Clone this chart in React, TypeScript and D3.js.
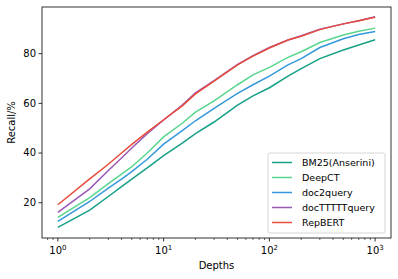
import * as d3 from 'd3';

const depths = [1, 2, 3, 4, 5, 7, 10, 15, 20, 30, 50, 70, 100, 150, 200, 300, 500, 700, 1000];

const bm25 = [10.1, 17, 22.5, 26.5, 29.5, 34, 39, 44, 47.8, 52.5, 59.3, 63, 66.3, 71, 74, 78, 81.5, 83.5, 85.6];
const deepct = [14.1, 22.1, 27.7, 31.5, 34.5, 40, 46.5, 52, 56.5, 61, 67.5, 71.5, 74.5, 78.5, 80.8, 84.5, 87.5, 89, 90.3];
const doc2query = [12.5, 20.5, 25.9, 29.5, 32.5, 37.5, 43.6, 49, 53, 58, 64, 67.5, 71, 75.5, 78, 82.5, 86, 87.7, 88.9];
const docttttt = [16.1, 25.6, 33, 38, 42, 47.8, 53.3, 59.3, 64.2, 69.2, 75.7, 79.2, 82.5, 85.5, 87.2, 89.9, 92, 93.3, 94.9];
const repbert = [19.2, 29.6, 35.5, 40, 43.5, 48.4, 53.4, 59, 63.8, 69, 75.5, 79, 82.3, 85.5, 87, 89.7, 92, 93.3, 94.7];

const seriesNames = ['BM25(Anserini)', 'DeepCT', 'doc2query', 'docTTTTTquery', 'RepBERT'];
const seriesValues = [bm25, deepct, doc2query, docttttt, repbert];
const colors = ['#16a085', '#58d68d', '#3498db', '#9b59b6', '#e74c3c'];

const yTicks = [20, 40, 60, 80];
const xTicks = [1, 10, 100, 1000];

const W = 398;
const H = 279;
const left = 42, right = 391, top = 7, bottom = 238;
const font = 'DejaVu Sans, sans-serif';

export default function App() {
  const x = d3.scaleLog().domain([Math.pow(10, -0.15), Math.pow(10, 3.15)]).range([left, right]);
  const y = d3.scaleLinear().domain([5.8, 98.8]).range([bottom, top]);

  const line = d3
    .line<number>()
    .x((_, i) => x(depths[i]))
    .y((v) => y(v));

  // minor ticks on the log axis
  const minor: number[] = [];
  for (let e = -1; e <= 3; e++) {
    for (let m = 2; m <= 9; m++) {
      const v = m * Math.pow(10, e);
      const [a, b] = x.domain();
      if (v > a && v < b) minor.push(v);
    }
  }

  const legX = 268, legY = 153, legW = 117, legH = 80;

  return (
    <svg width={W} height={H} style={{ position: 'absolute', left: 0, top: 0 }} fontFamily={font}>
      <rect width={W} height={H} fill="#fff" />

      {seriesValues.map((vals, i) => (
        <path key={seriesNames[i]} d={line(vals) || ''} fill="none" stroke={colors[i]} strokeWidth={1.5} />
      ))}

      {/* frame */}
      <rect x={left} y={top} width={right - left} height={bottom - top} fill="none" stroke="#000" strokeWidth={0.8} />

      {/* y axis */}
      {yTicks.map((t) => (
        <g key={t} transform={`translate(0,${y(t)})`}>
          <line x1={left - 3.5} x2={left} stroke="#000" strokeWidth={0.8} />
          <text x={left - 6} dy="0.32em" textAnchor="end" fontSize={10} fill="#000">
            {t}
          </text>
        </g>
      ))}

      {/* x axis */}
      {xTicks.map((t, i) => (
        <g key={t} transform={`translate(${x(t)},0)`}>
          <line y1={bottom} y2={bottom + 3.5} stroke="#000" strokeWidth={0.8} />
          <text y={bottom + 16} textAnchor="middle" fontSize={10} fill="#000">
            10
            <tspan fontSize={7} dy={-4}>
              {i}
            </tspan>
          </text>
        </g>
      ))}
      {minor.map((t) => (
        <line key={t} x1={x(t)} x2={x(t)} y1={bottom} y2={bottom + 2} stroke="#000" strokeWidth={0.6} />
      ))}

      <text x={(left + right) / 2} y={269} textAnchor="middle" fontSize={10} fill="#000">
        Depths
      </text>
      <text transform={`translate(15,${(top + bottom) / 2}) rotate(-90)`} textAnchor="middle" fontSize={10} fill="#000">
        Recall/%
      </text>

      {/* legend */}
      <rect x={legX} y={legY} width={legW} height={legH} rx={2} fill="#fff" fillOpacity={0.8} stroke="#ccc" strokeWidth={0.8} />
      {seriesNames.map((name, i) => {
        const ly = legY + 9.5 + i * 15;
        return (
          <g key={name}>
            <line x1={legX + 4} x2={legX + 24} y1={ly} y2={ly} stroke={colors[i]} strokeWidth={1.5} />
            <text x={legX + 34} y={ly} dy="0.35em" fontSize={9.5} fill="#000">
              {name}
            </text>
          </g>
        );
      })}
    </svg>
  );
}
